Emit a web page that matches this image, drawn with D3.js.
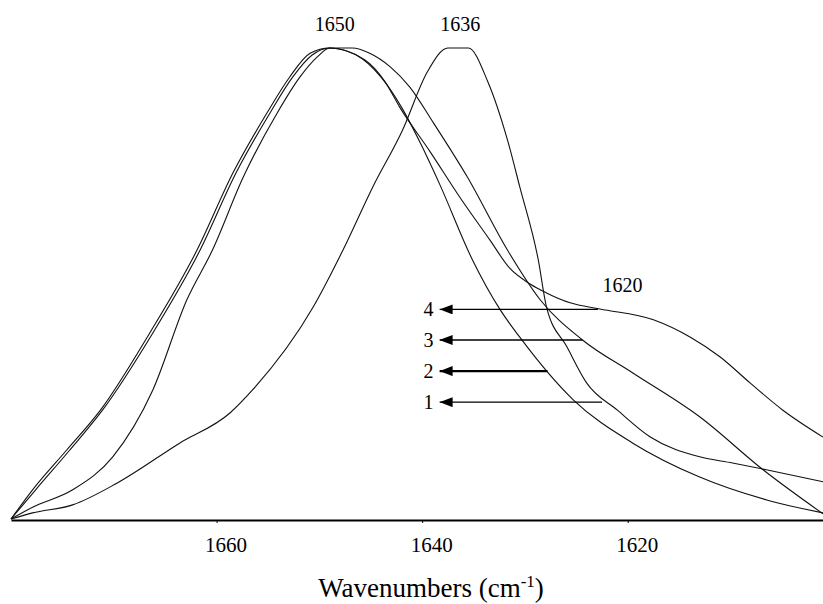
<!DOCTYPE html>
<html>
<head>
<meta charset="utf-8">
<script src="https://cdn.jsdelivr.net/npm/d3@7"></script>
<style>
  html, body { margin: 0; padding: 0; background: #fff; }
  svg { display: block; font-family: "Liberation Serif", "Times New Roman", serif; }
</style>
</head>
<body>
<div id="chart"></div>
<script>
// Normalised absorbance spectra, [wavenumber, absorbance] pairs
const spectrum1 = [
  [1680, 0], [1677.9, 0.013], [1674.0, 0.030], [1669.7, 0.076], [1663.6, 0.161],
  [1658.7, 0.225], [1656.5, 0.274], [1650.6, 0.450], [1647.7, 0.571], [1644.8, 0.705],
  [1641.9, 0.826], [1639.5, 0.949], [1637.5, 1.0], [1635.5, 1.0], [1633.6, 0.928],
  [1631.7, 0.805], [1630.5, 0.705], [1628.7, 0.550], [1627.9, 0.450], [1625.9, 0.365],
  [1624.0, 0.289], [1621.0, 0.231], [1617.8, 0.174], [1613.0, 0.132], [1609.8, 0.119],
  [1606.4, 0.104], [1601, 0.079]
];
const spectrum2 = [
  [1680, 0], [1677.9, 0.025], [1674.0, 0.062], [1670.1, 0.132], [1666.2, 0.274],
  [1662.9, 0.465], [1660.4, 0.571], [1657.4, 0.726], [1654.1, 0.862], [1651.9, 0.938],
  [1650.2, 0.981], [1649.0, 1.0], [1646.5, 0.986], [1644.0, 0.938], [1642.0, 0.874],
  [1640.1, 0.795], [1638.3, 0.711], [1635.1, 0.550], [1632.4, 0.444], [1630.5, 0.386],
  [1625.3, 0.253], [1619.5, 0.161], [1613.0, 0.089], [1606.4, 0.040], [1601, 0.013]
];
const spectrum3 = [
  [1680, 0], [1677.9, 0.062], [1674.6, 0.146], [1671.3, 0.231], [1666.5, 0.395],
  [1661.9, 0.571], [1658.4, 0.735], [1655.1, 0.862], [1652.9, 0.938], [1650.9, 0.989],
  [1649.0, 1.0], [1646.8, 1.0], [1645.1, 0.989], [1643.1, 0.960], [1641.2, 0.917],
  [1638.9, 0.841], [1635.6, 0.726], [1631.7, 0.571], [1628.5, 0.465], [1624.4, 0.380],
  [1619.5, 0.310], [1613.0, 0.217], [1606.8, 0.104], [1601, 0.011]
];
const spectrum4 = [
  [1680, 0], [1677.6, 0.062], [1674.3, 0.146], [1671.1, 0.231], [1666.2, 0.395],
  [1661.6, 0.571], [1658.1, 0.735], [1654.8, 0.862], [1652.6, 0.938], [1650.7, 0.985],
  [1649.0, 1.0], [1645.6, 0.975], [1643.6, 0.928], [1642.2, 0.875], [1639.2, 0.779],
  [1636.3, 0.682], [1633.4, 0.592], [1631.5, 0.533], [1629.5, 0.499], [1627.9, 0.480],
  [1625.6, 0.459], [1622.7, 0.446], [1617.5, 0.423], [1613.9, 0.386], [1611.0, 0.344],
  [1608.1, 0.289], [1604.9, 0.231], [1601, 0.174]
];
const spectra = [spectrum1, spectrum2, spectrum3, spectrum4];

const xTicks = [1660, 1640, 1620];

// peak annotations: [text, wavenumber, absorbance]
const peakLabels = [['1650', 1648.5, 1.036], ['1636', 1636.3, 1.036], ['1620', 1620.5, 0.482]];

// arrows: [label, absorbance level, wavenumber where the arrow starts]
const arrows = [['4', 0.445, 1622.9], ['3', 0.380, 1624.4], ['2', 0.314, 1627.8], ['1', 0.248, 1622.5]];
const arrowTip = 1638.3;

const W = 823, H = 604;
const MARGIN = { top: 48, right: 0, bottom: 85, left: 11 };

const x = d3.scaleLinear().domain([1680, 1601]).range([MARGIN.left, W - MARGIN.right]);
const y = d3.scaleLinear().domain([0, 1]).range([519, MARGIN.top]);

const svg = d3.select('#chart').append('svg')
  .attr('width', W)
  .attr('height', H);

svg.append('defs').append('marker')
  .attr('id', 'head')
  .attr('viewBox', '0 0 10 10')
  .attr('preserveAspectRatio', 'none')
  .attr('refX', 10).attr('refY', 5)
  .attr('markerWidth', 13).attr('markerHeight', 10)
  .attr('markerUnits', 'userSpaceOnUse')
  .attr('orient', 'auto')
  .append('path')
  .attr('d', 'M0,0 L10,5 L0,10 Z')
  .attr('fill', '#000');

// x axis
const axis = svg.append('g')
  .attr('transform', `translate(0,520)`)
  .call(d3.axisBottom(x).tickValues(xTicks).tickFormat(d3.format('d'))
    .tickSizeInner(3).tickSizeOuter(0).tickPadding(14));
axis.select('.domain').attr('stroke-width', 2);
axis.selectAll('.tick text')
  .style('font-size', '21px')
  .style('font-family', '"Liberation Serif", serif')
  .attr('dx', 9);

svg.append('text')
  .attr('x', 431)
  .attr('y', 597)
  .attr('text-anchor', 'middle')
  .style('font-size', '27px')
  .text('Wavenumbers (cm')
  .append('tspan').attr('dy', -10).style('font-size', '17px').text('-1')
  .select(function () { return this.parentNode; })
  .append('tspan').attr('dy', 10).text(')');

const line = d3.line()
  .x(d => x(d[0]))
  .y(d => y(d[1]))
  .curve(d3.curveMonotoneX);

svg.append('g')
  .selectAll('path')
  .data(spectra)
  .join('path')
  .attr('fill', 'none')
  .attr('stroke', '#111')
  .attr('stroke-width', 1.1)
  .attr('d', line);

svg.append('g')
  .selectAll('text')
  .data(peakLabels)
  .join('text')
  .attr('x', d => x(d[1]))
  .attr('y', d => y(d[2]))
  .attr('text-anchor', 'middle')
  .style('font-size', '20px')
  .text(d => d[0]);

const ag = svg.append('g');
ag.selectAll('line')
  .data(arrows)
  .join('line')
  .attr('x1', d => x(d[2]))
  .attr('x2', x(arrowTip))
  .attr('y1', d => y(d[1]))
  .attr('y2', d => y(d[1]))
  .attr('stroke', '#000')
  .attr('stroke-width', d => d[0] === '2' ? 2.2 : 1.3)
  .attr('marker-end', 'url(#head)');
ag.selectAll('text')
  .data(arrows)
  .join('text')
  .attr('x', x(arrowTip) - 6)
  .attr('y', d => y(d[1]) + 7)
  .attr('text-anchor', 'end')
  .style('font-size', '20px')
  .text(d => d[0]);
</script>
</body>
</html>
